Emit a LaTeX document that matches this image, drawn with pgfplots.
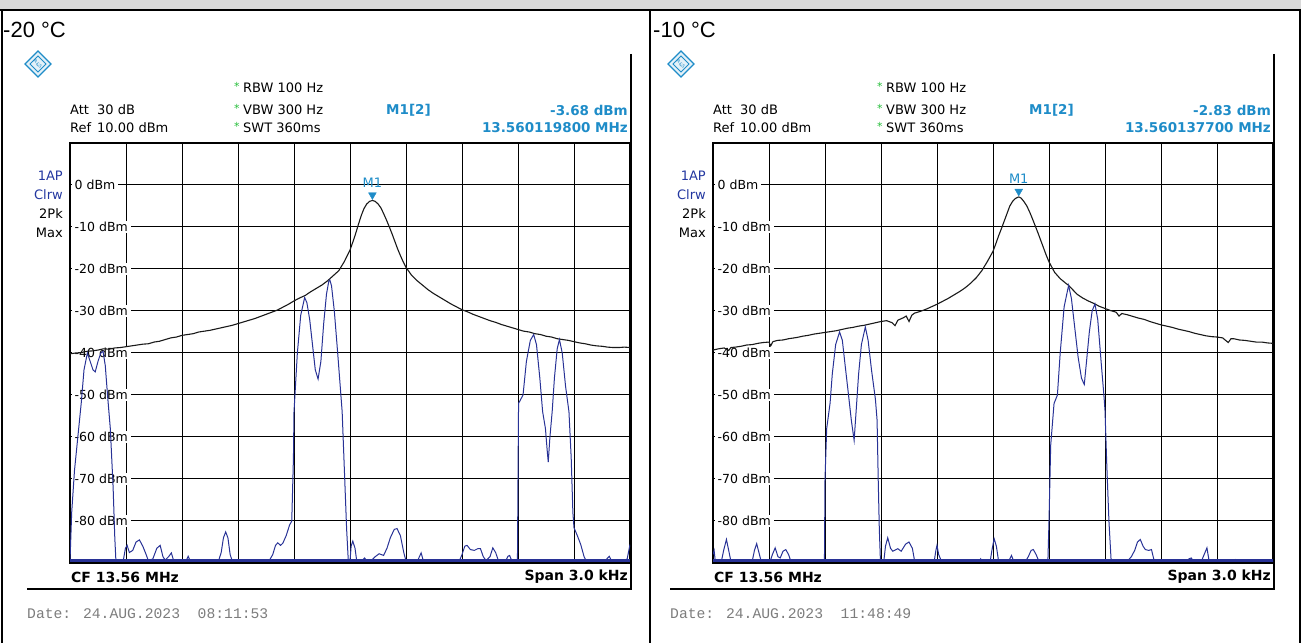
\documentclass[border=0pt]{standalone}
\usepackage{pgfplots}
\pgfplotsset{compat=1.18}
\usepackage{fontspec}
\setmainfont{DejaVu Sans}
\newfontfamily\arialf{Liberation Sans}
\newfontfamily\monof{Liberation Mono}
\definecolor{trblue}{RGB}{40,50,150}
\definecolor{trblack}{RGB}{25,25,25}
\definecolor{mkcyan}{RGB}{30,140,200}
\definecolor{hdrblue}{RGB}{35,55,160}
\definecolor{stargreen}{RGB}{40,190,60}
\definecolor{hdrgray}{RGB}{217,217,217}
\definecolor{dategray}{RGB}{125,125,125}

\newcommand\fsn{\fontsize{13}{15}\selectfont}
\newcommand\fsb{\fontsize{13.5}{15}\selectfont\bfseries}

\pgfplotsset{spec/.style={width=560pt,height=420pt,scale only axis,
  xmin=0,xmax=10,ymin=-90,ymax=10,
  xtick={0,1,...,10}, ytick={-90,-80,...,10},
  xticklabels={}, yticklabels={}, major tick length=0pt,
  grid=major, major grid style={black,line width=1pt},
  axis line style={black,line width=1.6pt}, anchor=south west}}

\newcommand\dbmlabels{%
  \pgfplotsinvokeforeach{0,-10,-20,-30,-40,-50,-60,-70,-80}{%
    \node[anchor=west, fill=white, inner xsep=3pt, inner ysep=1pt, xshift=1.5pt,
      font=\fontsize{12.5}{13}\selectfont] at (axis cs:0,##1) {##1 dBm};}}

% #1 x offset, #2 temperature, #3 marker level, #4 marker freq, #5 time, #6 x of temperature
\newcommand\panel[6]{%
\begin{scope}[shift={(#1,643)},y=-1pt,every node/.style={inner sep=0pt}]
  \node[anchor=west,font=\arialf\fontsize{22}{24}\selectfont] at (#6,30) {#2 °C};
  % R&S logo
  \draw[mkcyan,line width=1.3pt,fill=mkcyan!12] (38,51) -- (51,64) -- (38,77) -- (25,64) -- cycle;
  \draw[mkcyan,line width=0.8pt] (38,56) -- (46,64) -- (38,72) -- (30,64) -- cycle;
  \node[text=mkcyan,font=\fontsize{4.5}{5}\selectfont,rotate=-45] at (38,64) {R\&S};
  % header
  \node[anchor=west,font=\fsn] at (70,110) {Att};
  \node[anchor=west,font=\fsn] at (97,110) {30 dB};
  \node[anchor=west,font=\fsn] at (70,128) {Ref};
  \node[anchor=west,font=\fsn] at (97,128) {10.00 dBm};
  \node[anchor=west,font=\fontsize{11}{11}\selectfont,text=stargreen] at (234,86) {*};
  \node[anchor=west,font=\fontsize{11}{11}\selectfont,text=stargreen] at (234,108) {*};
  \node[anchor=west,font=\fontsize{11}{11}\selectfont,text=stargreen] at (234,126) {*};
  \node[anchor=west,font=\fsn] at (243,88) {RBW 100 Hz};
  \node[anchor=west,font=\fsn] at (243,110) {VBW 300 Hz};
  \node[anchor=west,font=\fsn] at (243,128) {SWT 360ms};
  \node[anchor=west,font=\fsb,text=mkcyan] at (386,110) {M1[2]};
  \node[anchor=east,font=\fsb,text=mkcyan] at (628,110) {#3 dBm};
  \node[anchor=east,font=\fsb,text=mkcyan] at (628,128) {#4 MHz};
  \node[anchor=east,font=\fsn,text=hdrblue] at (63,176) {1AP};
  \node[anchor=east,font=\fsn,text=hdrblue] at (63,195) {Clrw};
  \node[anchor=east,font=\fsn] at (63,214) {2Pk};
  \node[anchor=east,font=\fsn] at (63,233) {Max};
  % frame lines
  \draw[line width=2.5pt] (631,54) -- (631,589);
  \draw[line width=2.2pt] (27,589) -- (632,589);
  \node[anchor=west,font=\fontsize{14}{16}\selectfont\bfseries] at (71,577) {CF 13.56 MHz};
  \node[anchor=east,font=\fontsize{14}{16}\selectfont\bfseries] at (628,577) {Span 3.0 kHz};
  \node[anchor=west,font=\monof\fontsize{14.7}{16}\selectfont,text=dategray] at (27,614) {Date: 24.AUG.2023\ \ #5};
\end{scope}}

\begin{document}
\begin{tikzpicture}[x=1pt,y=1pt]
\path[use as bounding box] (0pt,0pt) rectangle (1301pt,643pt);
\begin{scope}[shift={(0,643)},y=-1pt]
  \fill[hdrgray] (0,0) rectangle (1301,10);
  \draw[line width=2pt] (0,10) -- (1301,10);
  \draw[line width=2pt] (1.5,10) -- (1.5,643);
  \draw[line width=2pt] (650,10) -- (650,643);
  \draw[line width=2pt] (1299.5,10) -- (1299.5,643);
\end{scope}

\panel{0}{-20}{-3.68}{13.560119800}{08:11:53}{3}
\panel{643}{-10}{-2.83}{13.560137700}{11:48:49}{10}

\coordinate (LA) at (70pt,80pt);
\coordinate (RA) at (713pt,80pt);

% ---------------- left panel: -20 C ----------------
\begin{axis}[spec, at={(LA)}]
\dbmlabels
\addplot[trblue, line width=2.2pt] coordinates {(0,-89.4)(10,-89.4)};
\addplot[trblack, line width=1.1pt] coordinates {
(0,-40.2)(0.1,-40.0)(0.2,-39.9)(0.3,-39.6)(0.4,-39.5)(0.5,-39.3)(0.6,-39.0)(0.7,-39.1)(0.8,-38.8)(0.9,-38.7)
(1.0,-38.5)(1.1,-38.3)(1.2,-38.1)(1.3,-37.9)(1.4,-37.8)(1.5,-37.4)(1.6,-37.2)(1.7,-36.8)(1.8,-36.4)(1.9,-36.2)
(2.0,-35.8)(2.1,-35.6)(2.2,-35.4)(2.3,-35.0)(2.4,-34.8)(2.5,-34.6)(2.6,-34.3)(2.7,-34.0)(2.8,-33.7)(2.9,-33.4)
(3.0,-33.0)(3.1,-32.6)(3.2,-32.2)(3.3,-31.8)(3.4,-31.3)(3.5,-30.8)(3.6,-30.3)(3.7,-29.8)(3.8,-29.1)(3.9,-28.4)
(4.0,-27.6)(4.1,-26.9)(4.2,-26.3)(4.3,-25.4)(4.4,-24.6)(4.5,-23.8)(4.6,-22.8)(4.7,-21.6)(4.8,-20.4)(4.9,-18.2)
(5.0,-15.5)(5.05,-13.6)(5.1,-11.6)(5.15,-9.4)(5.2,-7.3)(5.25,-5.6)(5.3,-4.5)(5.35,-3.9)(5.40,-3.68)(5.45,-3.9)
(5.5,-4.5)(5.55,-5.4)(5.6,-6.8)(5.65,-8.3)(5.7,-9.9)(5.75,-11.6)(5.8,-13.4)(5.85,-15.2)(5.9,-16.8)(5.95,-18.3)
(6.0,-19.6)(6.1,-21.5)(6.2,-22.8)(6.3,-23.9)(6.4,-25.0)(6.5,-25.9)(6.6,-26.7)(6.7,-27.5)(6.8,-28.3)(6.9,-29.0)
(7.0,-29.7)(7.1,-30.2)(7.2,-30.8)(7.3,-31.3)(7.4,-31.8)(7.5,-32.3)(7.6,-32.7)(7.7,-33.2)(7.8,-33.6)(7.9,-34.0)
(8.0,-34.4)(8.1,-34.8)(8.2,-35.0)(8.3,-35.4)(8.4,-35.6)(8.5,-36.0)(8.6,-36.2)(8.7,-36.6)(8.8,-36.8)(8.9,-37.0)
(9.0,-37.3)(9.1,-37.6)(9.2,-37.8)(9.3,-38.1)(9.4,-38.3)(9.5,-38.4)(9.6,-38.6)(9.7,-38.7)(9.8,-38.7)(9.9,-38.6)(10,-38.7)};
\addplot[trblue, line width=1pt] coordinates {
(0,-89.6)(0.03,-78)(0.08,-68)(0.14,-60)(0.2,-52)(0.25,-44)(0.31,-40.0)(0.36,-42)(0.41,-44)(0.45,-44.5)
(0.5,-42)(0.55,-40)(0.59,-39.6)(0.63,-43)(0.67,-50)(0.72,-58)(0.77,-72)(0.8,-84)(0.82,-89.6)
(0.9,-89.6)(0.95,-89.5)(0.99,-86.5)(1.02,-85.8)(1.06,-87.5)(1.12,-87)(1.18,-85)(1.24,-84.5)(1.3,-86)(1.36,-88)
(1.4,-89.5)(1.48,-89)(1.55,-86.5)(1.61,-85.8)(1.66,-88.5)(1.7,-89.3)(1.76,-88.5)(1.81,-87.6)(1.85,-89.4)
(1.95,-89.6)(2.07,-89.6)(2.11,-88.4)(2.15,-89.6)(2.65,-89.6)(2.7,-87.5)(2.74,-84)(2.78,-82.6)(2.82,-84)
(2.86,-88)(2.9,-89.6)(3.55,-89.6)(3.62,-88)(3.67,-85.8)(3.71,-85.2)(3.76,-85.8)(3.8,-85.3)(3.86,-83.5)
(3.92,-81)(3.96,-80)(3.99,-65)(4.0,-54)(4.06,-40)(4.12,-31)(4.19,-26.8)(4.23,-28)(4.28,-32)(4.33,-38)
(4.38,-44)(4.43,-46.2)(4.48,-42)(4.53,-33)(4.58,-26)(4.62,-23)(4.64,-22.6)(4.67,-24)(4.72,-30)(4.78,-40)
(4.86,-54)(4.9,-68)(4.94,-82)(4.97,-89.6)
(5.0,-89.6)(5.02,-86)(5.05,-84.8)(5.09,-86.5)(5.12,-89.5)(5.2,-89.6)(5.26,-88.8)(5.3,-89.5)(5.38,-89.4)
(5.45,-88.5)(5.52,-87.8)(5.6,-88.2)(5.66,-86.5)(5.72,-84)(5.79,-82)(5.84,-81.8)(5.9,-83.5)(5.96,-87.5)
(6.0,-89.5)(6.2,-89.6)(6.24,-88.5)(6.27,-87.6)(6.31,-89.5)(6.95,-89.6)(7.0,-88)(7.05,-86)(7.09,-85.8)
(7.15,-86.8)(7.22,-87)(7.28,-86.6)(7.33,-86.6)(7.38,-88.5)(7.43,-89.4)(7.5,-88.5)(7.55,-86.4)(7.6,-87.5)
(7.65,-89.4)(7.78,-89.5)(7.82,-88.4)(7.85,-88.2)(7.89,-89.5)(7.99,-89.6)
(8.0,-70)(8.01,-52)(8.09,-50)(8.15,-42)(8.22,-37)(8.28,-35.6)(8.33,-38)(8.39,-46)(8.44,-54)(8.49,-58)
(8.52,-63)(8.54,-66)(8.57,-60)(8.61,-54)(8.65,-46)(8.7,-39)(8.74,-36.8)(8.79,-40)(8.85,-48)(8.91,-54)
(8.95,-65)(8.98,-78)(9.0,-81.6)(9.06,-83.5)(9.12,-85.6)(9.18,-88.5)(9.22,-89.6)(9.55,-89.6)(9.6,-88.8)
(9.63,-88.4)(9.67,-89.5)(9.9,-89.5)(9.95,-89)(10,-85.6)};
\addplot[only marks, mark=triangle*, mark size=4.5pt,
  mark options={yshift=5.5pt, rotate=180, fill=mkcyan, draw=mkcyan}] coordinates {(5.40,-3.68)};
\node[text=mkcyan, font=\fontsize{13}{13}\selectfont, inner sep=0pt] at (axis cs:5.40,-3.68) [yshift=18pt] {M1};
\end{axis}

% ---------------- right panel: -10 C ----------------
\begin{axis}[spec, at={(RA)}]
\dbmlabels
\addplot[trblue, line width=2.2pt] coordinates {(0,-89.4)(10,-89.4)};
\addplot[trblack, line width=1.1pt] coordinates {
(0,-39.3)(0.1,-39.0)(0.2,-38.8)(0.28,-39.4)(0.32,-38.7)(0.4,-38.6)(0.5,-38.4)(0.6,-38.1)(0.7,-38.0)(0.8,-37.7)
(0.9,-37.5)(1.0,-37.4)(1.03,-38.3)(1.07,-37.3)(1.15,-37.0)(1.25,-36.9)(1.35,-36.6)(1.5,-36.3)(1.6,-36.0)
(1.7,-35.8)(1.8,-35.5)(1.9,-35.3)(2.0,-35.1)(2.1,-34.9)(2.2,-34.7)(2.3,-34.4)(2.4,-34.1)(2.5,-33.9)(2.6,-33.6)
(2.7,-33.4)(2.8,-33.1)(2.9,-32.8)(3.0,-32.5)(3.1,-32.3)(3.2,-32.8)(3.25,-33.5)(3.3,-32.2)(3.4,-31.6)
(3.45,-31.2)(3.5,-32.5)(3.55,-31.0)(3.6,-30.5)(3.7,-30.1)(3.8,-29.6)(3.9,-29.0)(4.0,-28.4)(4.1,-27.7)
(4.2,-27.0)(4.3,-26.2)(4.4,-25.4)(4.5,-24.5)(4.6,-23.4)(4.7,-22.1)(4.8,-20.4)(4.9,-18.2)(5.0,-15.8)
(5.05,-14.0)(5.1,-12.1)(5.15,-10.4)(5.2,-8.6)(5.25,-6.8)(5.3,-5.0)(5.35,-3.9)(5.4,-3.2)(5.46,-2.83)
(5.5,-3.1)(5.55,-3.9)(5.6,-4.9)(5.65,-6.3)(5.7,-7.9)(5.75,-9.6)(5.8,-11.3)(5.85,-13.1)(5.9,-14.9)
(5.95,-16.7)(6.0,-18.3)(6.1,-20.8)(6.2,-22.3)(6.3,-23.4)(6.35,-23.9)(6.4,-24.6)(6.5,-26.0)(6.6,-26.9)
(6.7,-27.6)(6.8,-28.2)(6.9,-28.9)(7.0,-29.4)(7.1,-29.9)(7.2,-30.3)(7.25,-31.2)(7.3,-30.6)(7.4,-30.9)
(7.5,-31.3)(7.6,-31.7)(7.7,-32.0)(7.8,-32.5)(7.9,-32.9)(8.0,-33.3)(8.1,-33.6)(8.2,-33.9)(8.3,-34.3)
(8.4,-34.6)(8.5,-34.9)(8.6,-35.3)(8.7,-35.6)(8.8,-35.9)(8.9,-36.1)(9.0,-36.2)(9.1,-36.4)(9.2,-37.5)
(9.25,-36.6)(9.3,-36.6)(9.4,-36.9)(9.5,-37.0)(9.6,-37.2)(9.7,-37.4)(9.8,-37.4)(9.9,-37.6)(10,-37.7)};
\addplot[trblue, line width=1pt] coordinates {
(0,-88)(0.02,-87)(0.04,-89.5)(0.15,-89.6)(0.19,-87)(0.24,-84.4)(0.28,-87)(0.32,-89.6)(0.7,-89.6)
(0.74,-87)(0.78,-85.4)(0.82,-87.5)(0.86,-89.6)(1.02,-89.6)(1.06,-88)(1.11,-86.4)(1.16,-88.5)(1.2,-88.8)
(1.25,-87.2)(1.3,-86.8)(1.35,-88)(1.39,-89.6)(1.99,-89.6)
(2.0,-70)(2.03,-58)(2.09,-52)(2.13,-45)(2.19,-38)(2.26,-35.0)(2.31,-37)(2.36,-43)(2.42,-50)(2.47,-56)
(2.52,-60.8)(2.56,-53)(2.6,-45)(2.65,-38)(2.72,-33.8)(2.77,-37)(2.83,-44)(2.9,-51)(2.93,-56)(2.95,-70)
(2.97,-82)(2.99,-89.6)
(3.05,-89.6)(3.08,-86)(3.12,-84)(3.17,-86.5)(3.21,-87.2)(3.3,-86.6)(3.36,-87.2)(3.44,-85.5)(3.5,-85)
(3.56,-86.5)(3.6,-89.5)(3.95,-89.6)(3.98,-87)(4.0,-85.8)(4.03,-88)(4.08,-89.6)(4.75,-89.6)(4.78,-89)
(4.8,-89.6)(4.95,-89.6)(4.98,-87)(5.02,-84.2)(5.06,-86)(5.1,-89.6)(5.28,-89.6)(5.33,-88.2)(5.37,-89.6)
(5.58,-89.6)(5.63,-88.5)(5.68,-87)(5.72,-86.8)(5.77,-88)(5.82,-89.6)(5.98,-89.6)
(6.0,-80)(6.03,-62)(6.09,-52)(6.15,-50)(6.2,-40)(6.27,-29)(6.35,-23.9)(6.4,-27)(6.46,-34)(6.52,-41)
(6.58,-46)(6.63,-47.5)(6.67,-42)(6.72,-35)(6.77,-30)(6.82,-28.3)(6.87,-32)(6.93,-42)(6.98,-50)(7.0,-53.7)
(7.03,-66)(7.07,-80)(7.11,-89.6)
(7.4,-89.6)(7.47,-88.5)(7.53,-87)(7.58,-85)(7.63,-84.4)(7.68,-86)(7.72,-86.8)(7.78,-87)(7.83,-86.8)
(7.88,-89.6)(8.45,-89.6)(8.5,-89)(8.54,-88.8)(8.58,-89.6)(8.72,-89.6)(8.77,-88)(8.82,-86.4)(8.86,-89.6)
(9.3,-89.6)(9.33,-89.2)(9.36,-89.6)(10,-89.6)};
\addplot[only marks, mark=triangle*, mark size=4.5pt,
  mark options={yshift=5.5pt, rotate=180, fill=mkcyan, draw=mkcyan}] coordinates {(5.46,-2.83)};
\node[text=mkcyan, font=\fontsize{13}{13}\selectfont, inner sep=0pt] at (axis cs:5.46,-2.83) [yshift=18pt] {M1};
\end{axis}
\end{tikzpicture}
\end{document}
